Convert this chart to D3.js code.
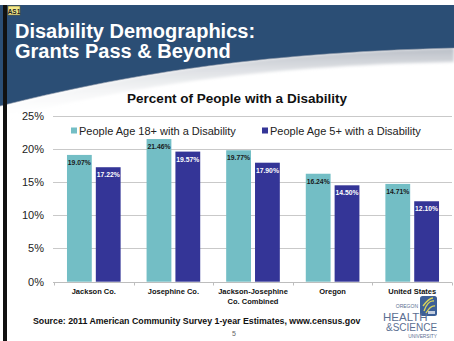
<!DOCTYPE html>
<html>
<head>
<meta charset="utf-8">
<script src="https://cdn.jsdelivr.net/npm/d3@7"></script>
<style>
  html, body { margin: 0; padding: 0; background: #fff; }
  svg { display: block; }
  text { font-family: "Liberation Sans", Arial, sans-serif; }
</style>
</head>
<body>
<svg id="slide" width="454" height="341"></svg>
<script>
// Disability rates by area (ACS 2011, 1-year)
const categories = ["Jackson Co.", "Josephine Co.", "Jackson-Josephine|Co. Combined", "Oregon", "United States"];
const seriesNames = ["People Age 18+ with a Disability", "People Age 5+ with a Disability"];
const adults18 = [19.07, 21.46, 19.77, 16.24, 14.71];
const age5plus = [17.22, 19.57, 17.90, 14.50, 12.10];
const yTicks = [0, 5, 10, 15, 20, 25];
const seriesColors = ["#73BEC5", "#343597"];
const labelColors = ["#1a1a1a", "#ffffff"];

const svg = d3.select("#slide");
const W = 454, H = 341;

const defs = svg.append("defs");
const shade = defs.append("linearGradient").attr("id", "shade")
  .attr("x1", 0).attr("y1", 0).attr("x2", 0).attr("y2", 1);
shade.append("stop").attr("offset", 0).attr("stop-color", "#b9bec6");
shade.append("stop").attr("offset", 1).attr("stop-color", "#ffffff").attr("stop-opacity", 0);
defs.append("filter").attr("id", "soft").append("feGaussianBlur").attr("stdDeviation", 1.6);

// ---- header band with curved lower edge ----
const curve = "C 120,76 250,53 454,48";
svg.append("path")
  .attr("d", `M0,108 ${curve} L454,62 C 250,66 120,88 0,120 Z`)
  .attr("fill", "url(#shade)").attr("filter", "url(#soft)");
svg.append("path")
  .attr("d", `M0,5 L454,5 L454,48 C 250,53 120,76 0,106 Z`)
  .attr("fill", "#2B4E75");
svg.append("path")
  .attr("d", `M0,106 ${curve}`)
  .attr("fill", "none").attr("stroke", "#8c96a6").attr("stroke-width", 1).attr("opacity", 0.6);

// left frame edge
svg.append("rect").attr("x", 3).attr("y", 5).attr("width", 4).attr("height", H - 5).attr("fill", "#111");

// small comment marker
svg.append("rect").attr("x", 8).attr("y", 6).attr("width", 12).attr("height", 9)
  .attr("fill", "#f3e98a").attr("stroke", "#6b6330").attr("stroke-width", 0.6);
svg.append("text").attr("x", 14).attr("y", 13.5).attr("text-anchor", "middle")
  .attr("font-size", 6.5).attr("font-weight", "bold").attr("fill", "#222").text("AS1");

// slide title
svg.append("text").attr("x", 15).attr("y", 38).attr("font-size", 20).attr("font-weight", "bold")
  .attr("fill", "#ffffff").text("Disability Demographics:");
svg.append("text").attr("x", 15).attr("y", 58).attr("font-size", 20).attr("font-weight", "bold")
  .attr("fill", "#ffffff").text("Grants Pass & Beyond");

// ---- chart ----
const y = d3.scaleLinear().domain([0, 25]).range([281.7, 115.5]);
const x0 = d3.scaleBand().domain(categories).range([54, 452]).paddingInner(0).paddingOuter(0);
const x1 = d3.scaleBand().domain(seriesNames).range([0, x0.bandwidth()]).paddingInner(0.14).paddingOuter(0.45);

svg.append("text").attr("x", 237).attr("y", 103).attr("text-anchor", "middle")
  .attr("font-size", 13.5).attr("font-weight", "bold").attr("fill", "#111")
  .text("Percent of People with a Disability");

// gridlines
svg.append("g").selectAll("line").data(yTicks.slice(1)).join("line")
  .attr("x1", 53).attr("x2", 452)
  .attr("y1", d => Math.round(y(d)) + 0.5).attr("y2", d => Math.round(y(d)) + 0.5)
  .attr("stroke", "#c9c9c9").attr("stroke-width", 1);

// y axis labels
const yAxis = d3.axisLeft(y).tickValues(yTicks).tickSize(0).tickPadding(0).tickFormat(d => d + "%");
const gy = svg.append("g").attr("transform", "translate(44,0)").call(yAxis);
gy.select(".domain").remove();
gy.selectAll("text").attr("font-size", 11).attr("fill", "#222")
  .attr("font-family", "'Liberation Sans', Arial, sans-serif");

// bars
const rows = categories.map((c, i) => ({ cat: c, vals: [adults18[i], age5plus[i]] }));
const groups = svg.append("g").selectAll("g").data(rows).join("g")
  .attr("transform", d => `translate(${x0(d.cat)},0)`);
groups.selectAll("rect").data(d => d.vals.map((v, k) => ({ v, k }))).join("rect")
  .attr("x", d => x1(seriesNames[d.k]))
  .attr("y", d => y(d.v))
  .attr("width", x1.bandwidth())
  .attr("height", d => y(0) - y(d.v))
  .attr("fill", d => seriesColors[d.k]);
groups.selectAll("text.val").data(d => d.vals.map((v, k) => ({ v, k }))).join("text")
  .attr("class", "val")
  .attr("x", d => x1(seriesNames[d.k]) + x1.bandwidth() / 2)
  .attr("y", d => y(d.v) + 10)
  .attr("text-anchor", "middle")
  .attr("font-size", 6.8).attr("font-weight", "bold")
  .attr("fill", d => labelColors[d.k])
  .text(d => d.v.toFixed(2) + "%");

// x axis
const xAxis = d3.axisBottom(x0).tickSize(0).tickPadding(0).tickFormat(() => "");
const gx = svg.append("g").attr("transform", `translate(0,${Math.round(y(0)) + 0.5})`).call(xAxis);
gx.select(".domain").attr("stroke", "#bdbdbd").attr("d", "M53,0H452");
svg.append("g").selectAll("line").data(categories.map(c => x0(c)).concat([452])).join("line")
  .attr("x1", d => Math.round(d) + 0.5).attr("x2", d => Math.round(d) + 0.5)
  .attr("y1", Math.round(y(0)) + 0.5).attr("y2", Math.round(y(0)) + 3.5)
  .attr("stroke", "#bdbdbd");
svg.append("g").selectAll("text").data(categories).join("text")
  .attr("x", d => x0(d) + x0.bandwidth() / 2)
  .attr("y", 294)
  .attr("text-anchor", "middle")
  .attr("font-size", 7.5).attr("font-weight", "bold").attr("fill", "#111")
  .each(function (d) {
    const parts = d.split("|");
    d3.select(this).selectAll("tspan").data(parts).join("tspan")
      .attr("x", x0(d) + x0.bandwidth() / 2)
      .attr("dy", (p, i) => i === 0 ? 0 : 9.5)
      .text(p => p);
  });

// legend
const legendPos = [71, 262];
const lg = svg.append("g").selectAll("g").data(seriesNames).join("g")
  .attr("transform", (d, i) => `translate(${legendPos[i]},0)`);
lg.append("rect").attr("x", 0).attr("y", 127.5).attr("width", 6).attr("height", 6)
  .attr("fill", (d, i) => seriesColors[i]);
lg.append("text").attr("x", 8).attr("y", 134.5).attr("font-size", 11).attr("fill", "#222").text(d => d);

// footer
svg.append("text").attr("x", 33).attr("y", 324).attr("font-size", 8.8).attr("font-weight", "bold")
  .attr("fill", "#111").text("Source: 2011 American Community Survey 1-year Estimates, www.census.gov");
svg.append("text").attr("x", 234).attr("y", 336).attr("text-anchor", "middle")
  .attr("font-size", 7).attr("fill", "#666").text("5");

// university mark
const serif = "'Liberation Serif', 'DejaVu Serif', serif";
const logo = svg.append("g").attr("fill", "#5c6f92");
logo.append("rect").attr("x", 420).attr("y", 296).attr("width", 17).attr("height", 20).attr("rx", 2.5)
  .attr("fill", "#3c5f97");
logo.append("path").attr("d", "M424,311 Q428,300 434,301 M423,306 Q429,298 433,298 M426,313 Q431,305 435,306")
  .attr("fill", "none").attr("stroke", "#d7d35a").attr("stroke-width", 1.4);
logo.append("rect").attr("x", 428).attr("y", 311).attr("width", 7).attr("height", 3).attr("fill", "#c5cfe0");
logo.append("text").attr("x", 418).attr("y", 308).attr("text-anchor", "end")
  .attr("font-family", serif).attr("font-size", 5).text("OREGON");
logo.append("text").attr("x", 383).attr("y", 320.5)
  .attr("font-family", serif).attr("font-size", 11.5).text("HEALTH");
logo.append("text").attr("x", 386).attr("y", 331)
  .attr("font-family", serif).attr("font-size", 10).text("&SCIENCE");
logo.append("text").attr("x", 437).attr("y", 338).attr("text-anchor", "end")
  .attr("font-family", serif).attr("font-size", 4.8).text("UNIVERSITY");
</script>
</body>
</html>
